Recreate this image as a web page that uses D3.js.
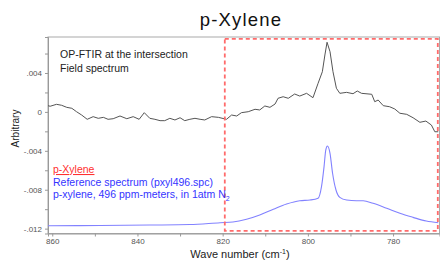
<!DOCTYPE html>
<html>
<head>
<meta charset="utf-8">
<script src="https://cdn.jsdelivr.net/npm/d3@7"></script>
<style>
  body { margin: 0; background: #fff; }
  svg { font-family: "Liberation Sans", Arial, sans-serif; display: block; }
  .axis path, .axis line { stroke: #999; }
  .axis text { fill: #555; font-size: 8px; }
</style>
</head>
<body>
<svg width="440" height="265"></svg>
<script>
// field spectrum (OP-FTIR), wavenumber / absorbance
const fieldWave = [861.0, 860.5, 859.0, 857.8, 856.6, 855.4, 854.3, 853.1, 851.8, 850.4, 849.2, 848.0, 846.9, 845.7, 844.1, 842.5, 841.0, 839.6, 838.4, 837.1, 835.9, 834.7, 833.6, 832.4, 831.2, 830.0, 828.9, 827.7, 826.5, 825.3, 824.2, 822.6, 821.0, 819.1, 817.9, 816.7, 815.6, 814.0, 812.4, 811.3, 810.1, 808.9, 807.7, 807.0, 805.8, 804.6, 803.1, 801.9, 800.3, 798.8, 797.6, 796.6, 796.0, 795.5, 794.8, 794.1, 793.3, 792.5, 790.9, 789.4, 788.4, 787.4, 785.0, 784.3, 783.5, 782.3, 780.8, 779.6, 778.4, 776.8, 775.3, 773.7, 772.3, 771.0, 770.2, 769.4];
const fieldAbs = [0.00064, 0.00058, 0.00078, 0.00068, 0.00047, 0.00037, 0.00002, -0.00032, -0.00076, -0.00049, -0.00066, -0.00056, -0.00076, -0.00070, -0.00042, -0.00070, -0.00049, -0.00076, -0.00008, -0.00066, -0.00076, -0.00090, -0.00090, -0.00066, -0.00083, -0.00060, -0.00090, -0.00076, -0.00066, -0.00076, -0.00083, -0.00049, -0.00056, -0.00076, -0.00032, -0.00042, -0.00008, 0.00002, 0.00027, 0.00020, 0.00061, 0.00047, 0.00081, 0.00140, 0.00156, 0.00140, 0.00184, 0.00163, 0.00191, 0.00146, 0.00294, 0.00413, 0.00585, 0.00716, 0.00619, 0.00413, 0.00243, 0.00191, 0.00201, 0.00187, 0.00215, 0.00191, 0.00181, 0.00105, 0.00122, 0.00064, 0.00053, 0.00030, -0.00014, -0.00025, -0.00060, -0.00107, -0.00094, -0.00135, -0.00204, -0.00204];

// reference spectrum pxyl496.spc
const refWave = [861.0, 848.8, 837.1, 827.7, 820.6, 817.6, 814.4, 811.3, 808.1, 805.0, 801.9, 799.5, 797.6, 796.8, 796.2, 795.8, 795.4, 794.8, 794.2, 793.4, 792.5, 790.9, 788.6, 787.0, 784.7, 781.5, 778.4, 775.3, 772.2, 769.4];
const refAbs = [-0.01170, -0.01168, -0.01163, -0.01158, -0.01139, -0.01132, -0.01104, -0.01060, -0.01001, -0.00947, -0.00913, -0.00906, -0.00888, -0.00769, -0.00563, -0.00392, -0.00351, -0.00426, -0.00631, -0.00803, -0.00878, -0.00906, -0.00913, -0.00913, -0.00940, -0.00991, -0.01042, -0.01084, -0.01122, -0.01139];

const xTicks = [860, 850, 840, 830, 820, 810, 800, 790, 780];
const yTicks = [-0.012, -0.010, -0.008, -0.006, -0.004, -0.002, 0, 0.002, 0.004, 0.006];
// highlighted region (red dashed box): [wave from, wave to, abs top, abs bottom]
const highlight = [819.5, 769.5, 0.0075, -0.01222];

const svg = d3.select("svg");
const mLeft = 48, mRight = 439.5, mTop = 37, mBottom = 233.5;

const x = d3.scaleLinear().domain([861, 769.1]).range([mLeft, mRight]);
const y = d3.scaleLinear().domain([-0.0125, 0.0077]).range([mBottom, mTop]);

// frame
svg.append("rect")
    .attr("x", mLeft).attr("y", mTop)
    .attr("width", mRight - mLeft).attr("height", mBottom - mTop)
    .attr("fill", "none").attr("stroke", "#aaa");

function fmt(v) {
    if (Math.abs(v) < 1e-9) return "0";
    let s = Math.abs(v).toFixed(3).replace(/^0/, "");
    return (v < 0 ? "-" : "") + s;
}

svg.append("g")
    .attr("class", "axis")
    .attr("transform", "translate(" + mLeft + ",0)")
    .call(d3.axisLeft(y).tickValues(yTicks).tickSize(3).tickPadding(3)
        .tickFormat(function(d) { return Math.round(d * 1000) % 4 === 0 ? fmt(d) : ""; }));

svg.append("g")
    .attr("class", "axis")
    .attr("transform", "translate(0," + mBottom + ")")
    .call(d3.axisBottom(x).tickValues(xTicks).tickSize(3).tickPadding(2)
        .tickFormat(function(d) { return d % 20 === 0 ? d : ""; }));

// spectra
let lineField = d3.line()
    .x(function(d, i) { return x(fieldWave[i]); })
    .y(function(d) { return y(d); });

let lineRef = d3.line()
    .x(function(d, i) { return x(refWave[i]); })
    .y(function(d) { return y(d); })
    .curve(d3.curveMonotoneX);

svg.append("path")
    .attr("d", lineField(fieldAbs))
    .attr("fill", "none")
    .attr("stroke", "#555")
    .attr("stroke-width", 1);

svg.append("path")
    .attr("d", lineRef(refAbs))
    .attr("fill", "none")
    .attr("stroke", "#8282ff")
    .attr("stroke-width", 1.1);

// red dashed highlight box
svg.append("rect")
    .attr("x", x(highlight[0]))
    .attr("y", y(highlight[2]))
    .attr("width", x(highlight[1]) - x(highlight[0]))
    .attr("height", y(highlight[3]) - y(highlight[2]))
    .attr("fill", "none")
    .attr("stroke", "#ff6b6b")
    .attr("stroke-width", 1.8)
    .attr("stroke-dasharray", "4,3");

// title and labels
svg.append("text")
    .attr("x", 241).attr("y", 26)
    .attr("text-anchor", "middle")
    .attr("font-size", 18.5)
    .attr("letter-spacing", 1.2)
    .attr("fill", "#111")
    .text("p-Xylene");

svg.append("text")
    .attr("transform", "translate(18.5,128.5) rotate(-90)")
    .attr("text-anchor", "middle")
    .attr("font-size", 10)
    .attr("fill", "#222")
    .text("Arbitrary");

let xl = svg.append("text")
    .attr("x", 240).attr("y", 258)
    .attr("text-anchor", "middle")
    .attr("font-size", 11)
    .attr("fill", "#222");
xl.append("tspan").text("Wave number  (cm");
xl.append("tspan").attr("dy", -4).attr("font-size", 7).text("-1");
xl.append("tspan").attr("dy", 4).text(")");

svg.append("text")
    .attr("x", 60).attr("y", 58)
    .attr("font-size", 10.5).attr("fill", "#222")
    .text("OP-FTIR at the intersection");
svg.append("text")
    .attr("x", 60).attr("y", 72)
    .attr("font-size", 10.5).attr("fill", "#222")
    .text("Field spectrum");

svg.append("text")
    .attr("x", 53).attr("y", 173)
    .attr("font-size", 10.5).attr("fill", "#ff3030")
    .attr("text-decoration", "underline")
    .text("p-Xylene");
svg.append("text")
    .attr("x", 53).attr("y", 185.5)
    .attr("font-size", 10.5).attr("fill", "#3434ff")
    .text("Reference spectrum (pxyl496.spc)");
let leg = svg.append("text")
    .attr("x", 53).attr("y", 198)
    .attr("font-size", 10.5).attr("fill", "#3434ff");
leg.append("tspan").text("p-xylene, 496 ppm-meters, in 1atm N");
leg.append("tspan").attr("dy", 2.5).attr("font-size", 7).text("2");
</script>
</body>
</html>
